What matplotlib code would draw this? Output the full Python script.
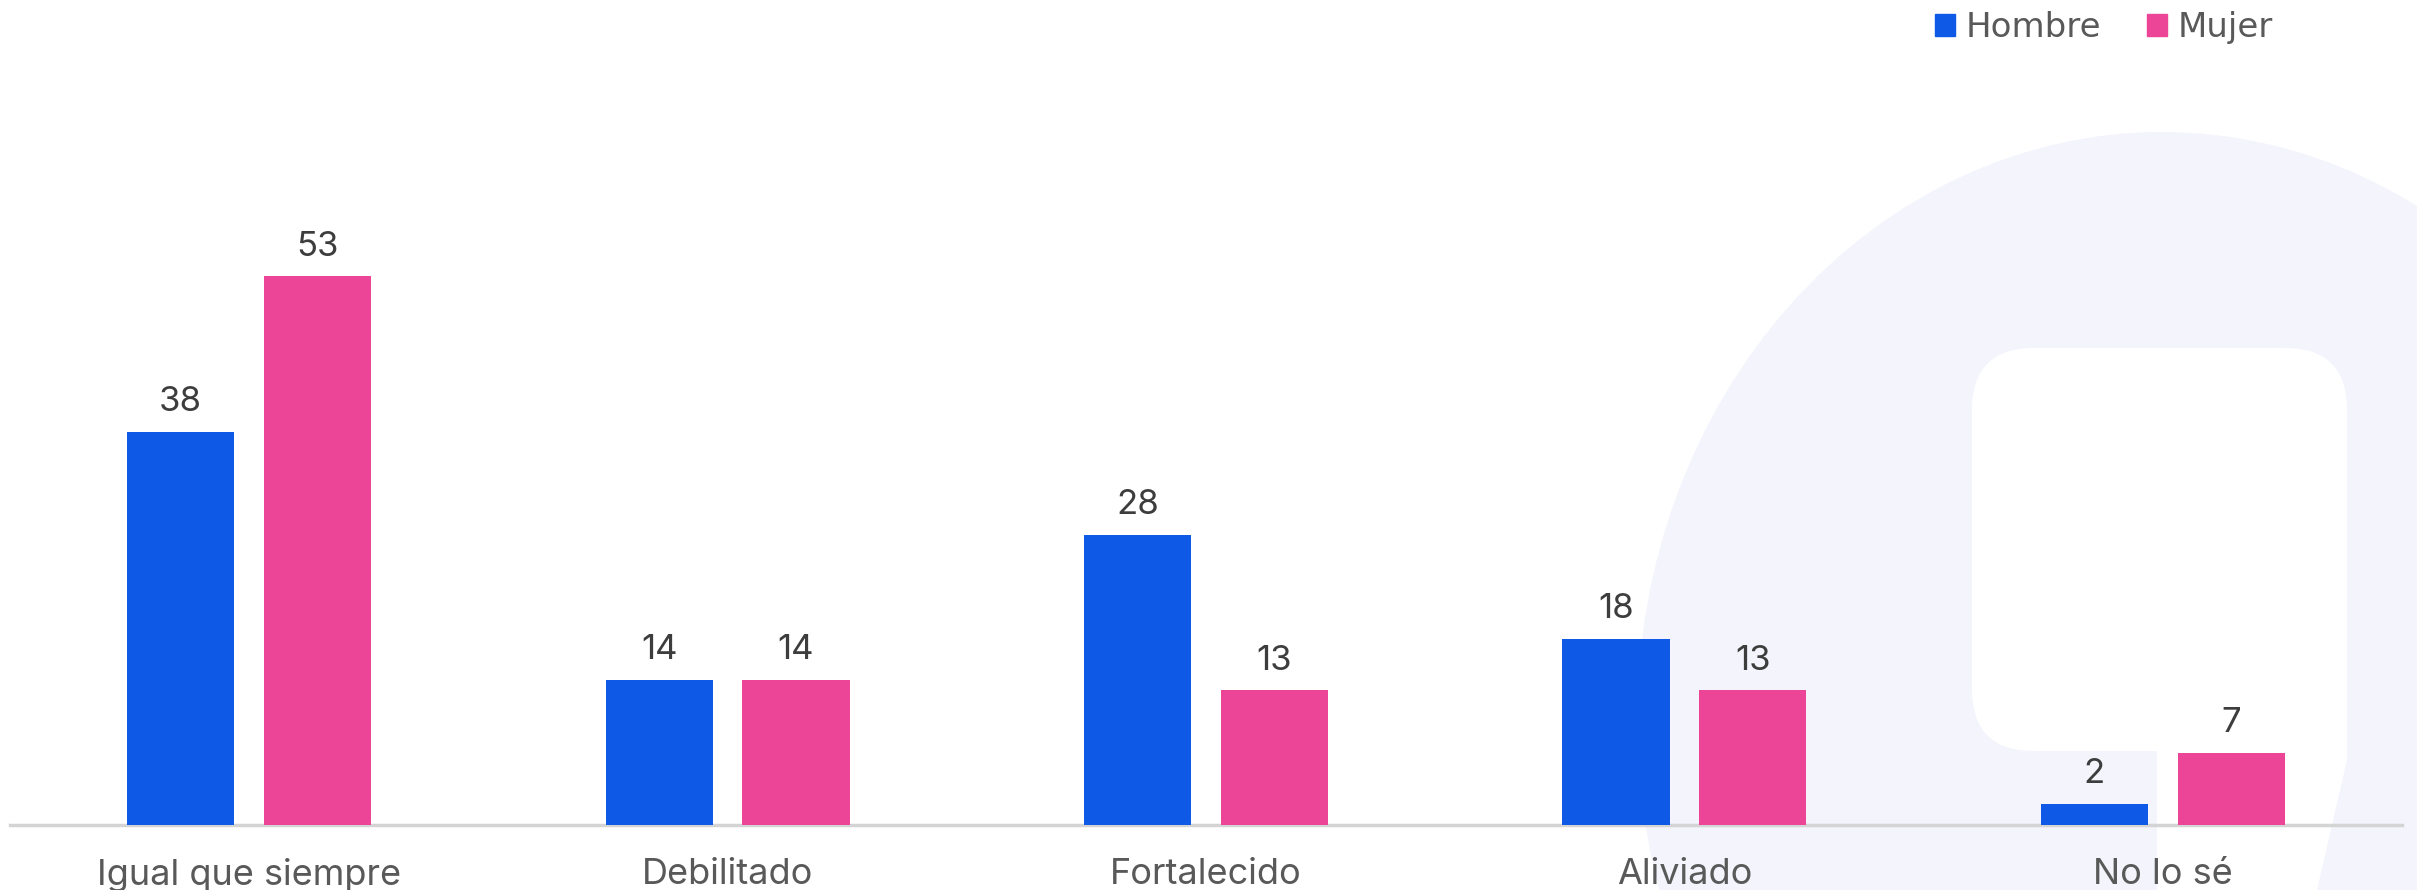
import numpy as np
import matplotlib
matplotlib.use("Agg")
import matplotlib.pyplot as plt
from matplotlib.patches import Ellipse, FancyBboxPatch, Polygon, Patch

categories = ["Igual que siempre", "Debilitado", "Fortalecido", "Aliviado", "No lo sé"]
hombre = [38, 14, 28, 18, 2]
mujer = [53, 14, 13, 13, 7]
series_names = ["Hombre", "Mujer"]

BLUE = "#0e5ae6"
PINK = "#ec4497"
WATERMARK = "#f3f4fc"

W, H = 2417, 890
fig = plt.figure(figsize=(W / 100, H / 100), dpi=100)
fig.patch.set_facecolor("white")

# background watermark (pixel coordinates of the figure)
bg = fig.add_axes([0, 0, 1, 1], zorder=-1)
bg.set_xlim(0, W)
bg.set_ylim(H, 0)
bg.axis("off")
bg.add_patch(Ellipse((2162, 720), 1050, 1176, color=WATERMARK, lw=0))
bg.add_patch(FancyBboxPatch((1972, 348), 375, 403,
                            boxstyle="round,pad=0,rounding_size=62",
                            color="white", lw=0))
bg.add_patch(Polygon([(2157, 690), (2347, 690), (2347, 760), (2317, 890), (2157, 890)],
                     closed=True, color="white", lw=0))

# main chart
ax = fig.add_axes([10 / W, (H - 825) / H, 2392 / W, 825 / H])
ax.patch.set_visible(False)

x = np.arange(len(categories))
width = 0.224
offset = 0.143
ax.bar(x - offset, hombre, width, color=BLUE, zorder=3)
ax.bar(x + offset, mujer, width, color=PINK, zorder=3)

ax.set_xlim(-0.5, len(categories) - 0.5)
ax.set_ylim(0, 825 / 10.35)

for xs, vals in ((x - offset, hombre), (x + offset, mujer)):
    for xi, v in zip(xs, vals):
        ax.annotate(str(v), (xi, v), xytext=(0, 15), textcoords="offset points",
                    ha="center", va="baseline", fontsize=25, family="Inter",
                    color="#3d3d3d")

for side in ("top", "right", "left"):
    ax.spines[side].set_visible(False)
ax.spines["bottom"].set_color("#d4d4d4")
ax.spines["bottom"].set_linewidth(2.5)
ax.set_yticks([])
ax.set_xticks(x)
ax.set_xticklabels(categories, fontsize=26, family="Inter", color="#595959")
ax.tick_params(axis="x", length=0, pad=24)

handles = [Patch(color=BLUE), Patch(color=PINK)]
fig.legend(handles, series_names, loc="upper left",
           bbox_to_anchor=(1935 / W, 1 - 11 / H), ncol=2, frameon=False,
           borderaxespad=0, borderpad=0, fontsize=24.5,
           handlelength=0.6, handleheight=0.6, handletextpad=0.3,
           columnspacing=1.35, labelcolor="#595959")

fig.savefig("out.png", dpi=100)
